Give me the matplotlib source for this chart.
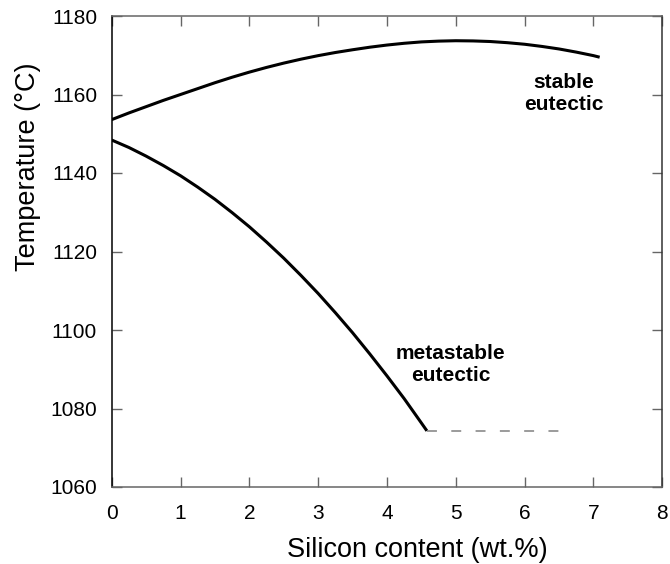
import matplotlib
matplotlib.use("Agg")
import matplotlib.pyplot as plt

plt.rcParams['font.family'] = ['Liberation Sans', 'DejaVu Sans']

# Stable (graphite) eutectic temperature vs silicon content
stable_si = [0.0, 0.25, 0.5, 0.75, 1.0, 1.25, 1.5, 1.75, 2.0, 2.25, 2.5, 2.75,
             3.0, 3.25, 3.5, 3.75, 4.0, 4.25, 4.5, 4.75, 5.0, 5.25, 5.5, 5.75,
             6.0, 6.25, 6.5, 6.75, 7.0, 7.09]
stable_t = [1153.6, 1155.3, 1156.9, 1158.5, 1160.0, 1161.5, 1163.0, 1164.4,
            1165.7, 1166.9, 1168.0, 1169.0, 1169.9, 1170.7, 1171.4, 1172.05,
            1172.6, 1173.05, 1173.4, 1173.6, 1173.7, 1173.65, 1173.5, 1173.2,
            1172.8, 1172.25, 1171.6, 1170.8, 1169.9, 1169.5]

# Metastable (cementite) eutectic temperature vs silicon content
meta_si = [0.0, 0.25, 0.5, 0.75, 1.0, 1.25, 1.5, 1.75, 2.0, 2.25, 2.5, 2.75,
           3.0, 3.25, 3.5, 3.75, 4.0, 4.25, 4.5, 4.58]
meta_t = [1148.4, 1146.5, 1144.3, 1141.9, 1139.3, 1136.4, 1133.3, 1129.9,
          1126.3, 1122.4, 1118.3, 1113.9, 1109.3, 1104.4, 1099.3, 1093.9,
          1088.3, 1082.5, 1076.3, 1074.3]

# Extension of the metastable eutectic level
ext_si = [4.58, 6.51]
ext_t = [1074.3, 1074.3]

x_ticks = [0, 1, 2, 3, 4, 5, 6, 7, 8]
y_ticks = [1060, 1080, 1100, 1120, 1140, 1160, 1180]

W, H = 670, 564
fig = plt.figure(figsize=(W / 100, H / 100), dpi=100)
ax = fig.add_axes([111.7 / W, (H - 487) / H, 550.6 / W, 471 / H])

ax.plot(stable_si, stable_t, color='black', lw=2.2, solid_capstyle='butt',
        solid_joinstyle='round')
ax.plot(meta_si, meta_t, color='black', lw=2.2, solid_capstyle='butt',
        solid_joinstyle='round')
ax.plot(ext_si, ext_t, color='#808080', lw=1.1, dashes=(6.5, 9.4))

ax.text(6.57, 1160.2, 'stable\neutectic', ha='center', va='center',
        fontsize=15, fontweight='bold')
ax.text(4.92, 1091.3, 'metastable\neutectic', ha='center', va='center',
        fontsize=15, fontweight='bold')

ax.set_xlim(0, 8)
ax.set_ylim(1060, 1180)
ax.set_xticks(x_ticks)
ax.set_yticks(y_ticks)

ax.tick_params(axis='both', which='both', direction='in', length=7, width=1,
               color='#666666', labelsize=15, top=True, right=True)
ax.tick_params(axis='x', pad=12)
ax.tick_params(axis='y', pad=10.5)

for side, col in [('left', 'black'), ('top', '#666666'), ('bottom', '#666666'), ('right', '#333333')]:
    ax.spines[side].set_color(col)
    ax.spines[side].set_linewidth(1.1)

ax.set_xlabel('Silicon content (wt.%)', fontsize=19.5)
ax.set_ylabel('Temperature (\u00b0C)', fontsize=19.5)
ax.xaxis.set_label_coords(0.555, -0.148)
ax.xaxis.label.set_verticalalignment('baseline')
ax.yaxis.set_label_coords(-0.139, 0.68)
ax.yaxis.label.set_verticalalignment('baseline')

fig.savefig('out.png', dpi=100)
